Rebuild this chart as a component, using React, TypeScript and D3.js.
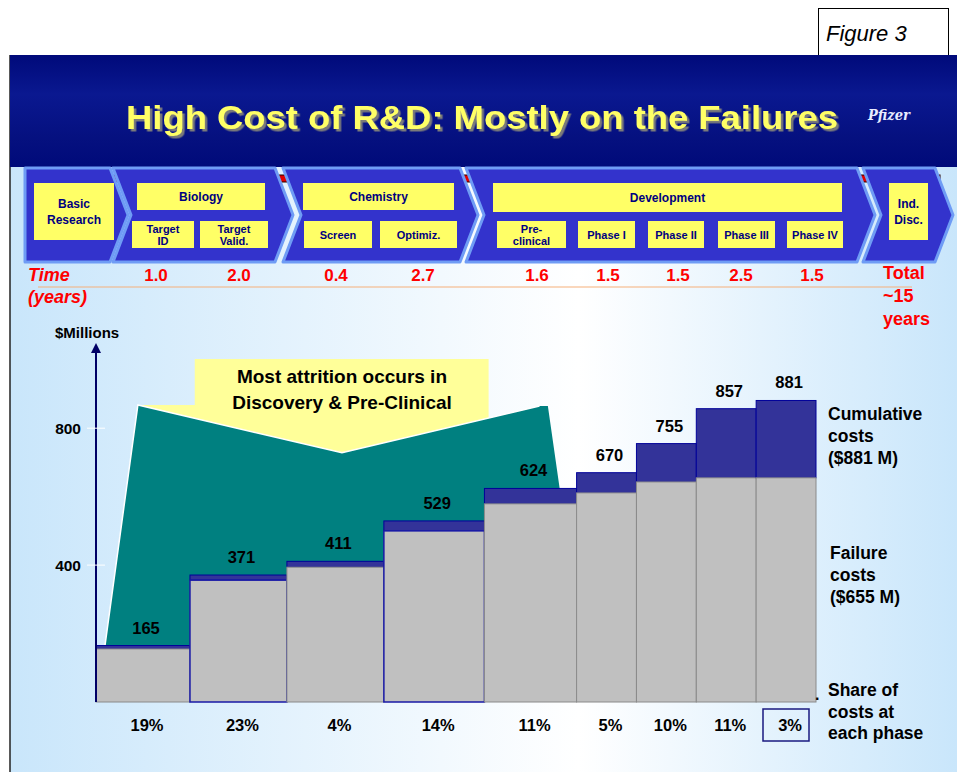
import React from 'react';
import * as d3 from 'd3';

// values
const cumulativeCosts = [165, 371, 411, 529, 624, 670, 755, 857, 881];
const failureCosts = [155, 356, 394, 500, 579, 611, 643, 655, 655];
const barWidths = [1.57, 1.62, 1.62, 1.68, 1.54, 1, 1, 1, 1];
const phaseShares = ['19%', '23%', '4%', '14%', '11%', '5%', '10%', '11%', '3%'];
const yTicks = [400, 800];
const subStages = ['Target|ID', 'Target|Valid.', 'Screen', 'Optimiz.', 'Pre-|clinical', 'Phase I', 'Phase II', 'Phase III', 'Phase IV'];
const stageYears = ['1.0', '2.0', '0.4', '2.7', '1.6', '1.5', '1.5', '2.5', '1.5'];
const mainStages = ['Basic|Research', 'Biology', 'Chemistry', 'Development', 'Ind.|Disc.'];
// attrition callout outline, in (bar unit, $M) space
const tealOutline: [number, number][] = [[0.15, 165], [0.7, 868], [4.11, 728], [7.41, 865], [7.55, 865], [7.75, 620], [7.75, 165]];
const calloutOutline: [number, number][] = [[0.7, 868], [1.65, 868], [1.65, 1002], [6.56, 1002], [6.56, 830], [4.11, 728]];

const FONT = '"Liberation Sans", Arial, sans-serif';
const NAVY = '#000080';

// banner layout
const mainBoxes = [
  { x0: 34, x1: 114, y0: 183, y1: 240 },
  { x0: 137, x1: 265, y0: 183, y1: 210 },
  { x0: 303, x1: 454, y0: 183, y1: 210 },
  { x0: 493, x1: 842, y0: 183, y1: 212 },
  { x0: 889, x1: 928, y0: 183, y1: 240 },
];
const subBoxes = [[132, 194], [200, 268], [304, 372], [380, 457], [497, 566], [578, 635], [648, 704], [718, 775], [787, 843]];
const yearX = [156, 239, 336, 423, 537, 608, 678, 741, 812];
const chevrons = [[25, 110, false], [113, 275, true], [283, 460, true], [466, 857, true], [863, 935, true]] as [number, number, boolean][];

const chevronPath = (x0: number, x1: number, notch: boolean) => {
  const top = 168, bot = 262, mid = 215, d = 18;
  const pts = [[x0, top], [x1, top], [x1 + d, mid], [x1, bot], [x0, bot]];
  if (notch) pts.push([x0 + d, mid]);
  return 'M' + pts.map(p => p.join(',')).join('L') + 'Z';
};

const multiLine = (label: string, cx: number, cy: number, size: number, gap: number, fill: string) => {
  const lines = label.split('|');
  const start = cy - ((lines.length - 1) * gap) / 2;
  return lines.map((l, i) => (
    <text key={i} x={cx} y={start + i * gap} dy="0.35em" textAnchor="middle" fontSize={size}
      fontWeight="bold" fill={fill} fontFamily={FONT}>{l}</text>
  ));
};

export default function App() {
  const width = 957, height = 772;

  const total = d3.sum(barWidths);
  const x = d3.scaleLinear().domain([0, total]).range([96, 816]);
  const y = d3.scaleLinear().domain([0, 800]).range([702, 428.2]);
  const edges = [0, ...d3.cumsum(barWidths)];
  const bars = cumulativeCosts.map((c, i) => ({
    c, f: failureCosts[i], x0: x(edges[i]), x1: x(edges[i + 1]), share: phaseShares[i],
  }));
  const outlined = new Set([1, 3]);

  const area = d3.line<[number, number]>().x(d => x(d[0])).y(d => y(d[1]));

  return (
    <svg width={width} height={height} style={{ position: 'absolute', left: 0, top: 0 }} fontFamily={FONT}>
      <defs>
        <linearGradient id="bg" x1="0" x2="1" y1="0" y2="0">
          <stop offset="0" stopColor="#c9e6fb" />
          <stop offset="0.6" stopColor="#ffffff" />
          <stop offset="1" stopColor="#c9e6fb" />
        </linearGradient>
        <linearGradient id="hdr" x1="0" x2="0" y1="0" y2="1">
          <stop offset="0" stopColor="#000a7a" />
          <stop offset="0.35" stopColor="#0a1890" />
          <stop offset="0.75" stopColor="#05107f" />
          <stop offset="1" stopColor="#000a7a" />
        </linearGradient>
        <filter id="shadow" x="-5%" y="-20%" width="110%" height="150%">
          <feDropShadow dx="2.5" dy="2.5" stdDeviation="0.4" floodColor="#7a7a7a" floodOpacity="1" />
        </filter>
      </defs>
      <rect width={width} height={height} fill="#fff" />

      {/* Figure label */}
      <rect x={818.5} y={8.5} width={130} height={47} fill="#fff" stroke="#000" />
      <text x={826} y={41} fontSize={22} fontStyle="italic" fill="#000">Figure 3</text>

      {/* slide */}
      <rect x={10} y={55} width={width - 10} height={height - 55} fill="url(#bg)" />
      <line x1={10} x2={10} y1={55} y2={height} stroke="#222" strokeWidth={1.5} />
      <rect x={10} y={55} width={width - 10} height={112} fill="url(#hdr)" />
      <text x={482} y={129} textAnchor="middle" fontSize={34} fontWeight="bold" fill="#ffff66"
        filter="url(#shadow)" textLength={712} lengthAdjust="spacingAndGlyphs">High Cost of R&amp;D: Mostly on the Failures</text>
      <text x={868} y={120} fontSize={14} fontStyle="italic" fontWeight="bold" fill="#e8ecff"
        fontFamily="DejaVu Serif, serif" textLength={42} lengthAdjust="spacingAndGlyphs">Pfizer</text>

      {/* process banner */}
      <rect x={25} y={175} width={915} height={7} fill="#e00000" stroke="#200" strokeWidth={1} />
      {chevrons.map(([x0, x1, n], i) => (
        <path key={i} d={chevronPath(x0, x1, n)} fill="#3333cc" stroke="#6f9cf5" strokeWidth={3} strokeLinejoin="round" />
      ))}
      {mainBoxes.map((b, i) => (
        <g key={i}>
          <rect x={b.x0} y={b.y0} width={b.x1 - b.x0} height={b.y1 - b.y0} fill="#ffff66" />
          {multiLine(mainStages[i], (b.x0 + b.x1) / 2, (b.y0 + b.y1) / 2, 12, 16, NAVY)}
        </g>
      ))}
      {subBoxes.map(([x0, x1], i) => (
        <g key={i}>
          <rect x={x0} y={221} width={x1 - x0} height={27} fill="#ffff66" />
          {multiLine(subStages[i], (x0 + x1) / 2, 235, 11, 12.5, NAVY)}
        </g>
      ))}

      {/* time row */}
      <text x={28} y={281} fontSize={18} fontWeight="bold" fontStyle="italic" fill="#ff0000">Time</text>
      <text x={28} y={303} fontSize={18} fontWeight="bold" fontStyle="italic" fill="#ff0000">(years)</text>
      <line x1={38} x2={912} y1={287} y2={287} stroke="#f5b07a" strokeWidth={1.2} />
      {stageYears.map((v, i) => (
        <text key={i} x={yearX[i]} y={281} textAnchor="middle" fontSize={17} fontWeight="bold" fill="#ff0000">{v}</text>
      ))}
      {['Total', '~15', 'years'].map((t, i) => (
        <text key={t} x={883} y={279 + i * 23} fontSize={18} fontWeight="bold" fill="#ff0000">{t}</text>
      ))}

      {/* chart */}
      <text x={55} y={338} fontSize={15} fontWeight="bold" fill="#000">$Millions</text>

      <path d={area(calloutOutline) + 'Z'} fill="#ffff99" />
      <path d={area(tealOutline) + 'Z'} fill="#008080" />
      <path d={area(tealOutline.slice(0, 4))!} fill="none" stroke="#fff" strokeWidth={1.5} />
      <text x={x(4.11)} y={383} textAnchor="middle" fontSize={19} fontWeight="bold" fill="#000">Most attrition occurs in</text>
      <text x={x(4.11)} y={409} textAnchor="middle" fontSize={19} fontWeight="bold" fill="#000">Discovery &amp; Pre-Clinical</text>

      {bars.map((b, i) => (
        <g key={i}>
          <rect x={b.x0} y={y(b.c)} width={b.x1 - b.x0} height={y(b.f) - y(b.c)}
            fill="#333399" stroke="#000099" strokeWidth={1} />
          <rect x={b.x0} y={y(b.f)} width={b.x1 - b.x0} height={y(0) - y(b.f)}
            fill="#c0c0c0" stroke={outlined.has(i) ? '#1a1aa6' : '#8a8a8a'} strokeWidth={outlined.has(i) ? 1.5 : 1} />
        </g>
      ))}
      {bars.map((b, i) => (
        <text key={i} x={(b.x0 + b.x1) / 2 + 3} y={y(b.c) - 12} textAnchor="middle" fontSize={16.5} fontWeight="bold" fill="#000">{b.c}</text>
      ))}

      {/* y axis */}
      <line x1={96} x2={96} y1={350} y2={y(0)} stroke="#000066" strokeWidth={2} />
      <path d="M96,343L101,353L91,353Z" fill="#000066" />
      {yTicks.map(t => (
        <g key={t}>
          <line x1={87} x2={105} y1={y(t)} y2={y(t)} stroke="#fff" strokeWidth={1} />
          <text x={81} y={y(t)} dy="0.35em" textAnchor="end" fontSize={15.5} fontWeight="bold" fill="#000">{t}</text>
        </g>
      ))}

      {/* shares */}
      {bars.map((b, i) => (
        <text key={i} x={(b.x0 + b.x1) / 2 + 4} y={731} textAnchor="middle" fontSize={16.5} fontWeight="bold" fill="#000">{b.share}</text>
      ))}
      <rect x={763} y={709} width={46} height={32} fill="none" stroke="#1a1a80" strokeWidth={1.5} />

      {/* right side notes */}
      {['Cumulative', 'costs', '($881 M)'].map((t, i) => (
        <text key={t} x={828} y={420 + i * 22} fontSize={17.5} fontWeight="bold" fill="#000">{t}</text>
      ))}
      {['Failure', 'costs', '($655 M)'].map((t, i) => (
        <text key={t} x={830} y={559 + i * 22} fontSize={17.5} fontWeight="bold" fill="#000">{t}</text>
      ))}
      <text x={815} y={700} fontSize={16} fontWeight="bold" fill="#000">.</text>
      {['Share of', 'costs at', 'each phase'].map((t, i) => (
        <text key={t} x={828} y={696 + i * 21.5} fontSize={17.5} fontWeight="bold" fill="#000">{t}</text>
      ))}
    </svg>
  );
}
